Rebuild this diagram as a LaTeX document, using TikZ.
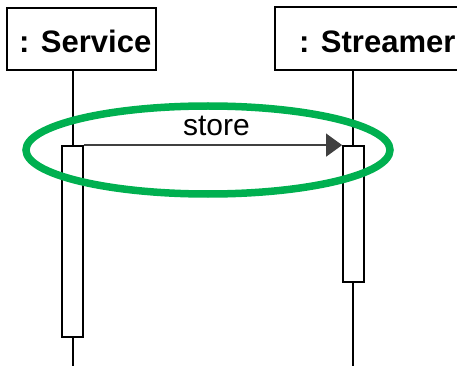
\documentclass[tikz,border=0pt]{standalone}
\usepackage{fontspec}
\setmainfont{Liberation Sans}
\usetikzlibrary{arrows.meta}
\definecolor{hlgreen}{HTML}{00B050}
\definecolor{msggray}{HTML}{404040}
\begin{document}
\begin{tikzpicture}[x=1pt,y=-1pt,
  objbox/.style={draw=black,line width=1.8pt,fill=white,inner sep=0pt},
  objname/.style={inner sep=0pt,anchor=base west,font=\fontsize{31}{37}\selectfont\bfseries},
  actbox/.style={draw=black,line width=1.8pt,fill=white,inner sep=0pt,minimum width=21pt},
  lifeline/.style={draw=black,line width=1.4pt},
  msg/.style={draw=msggray,line width=1.2pt,-{Triangle[length=16pt,width=23pt]}},
  msglabel/.style={inner sep=0pt,anchor=base,font=\fontsize{30}{36}\selectfont}]
\useasboundingbox (0,0) rectangle (457,366);

% object heads
\node[objbox,minimum width=149pt,minimum height=62pt] (svc) at (81.5,39) {};
\node[objbox,minimum width=202pt,minimum height=63pt] (str) at (376,38.5) {};
\node[objname] (svcname) at (19,53) {: Service};
\node[objname] (strname) at (299,53) {: Streamer};

% lifeline ends
\coordinate (svcend) at (73,366);
\coordinate (strend) at (353,366);
\draw[lifeline] (svc.south -| svcend) -- (svcend);
\draw[lifeline] (str.south -| strend) -- (strend);

% activation bars
\node[actbox,minimum height=191pt] (svcact) at (72.5,241.5) {};
\node[actbox,minimum height=136pt] (stract) at (353.5,214) {};

% message
\draw[msg] (svcact.north east) -- (stract.north west);
\node[msglabel] (store) at (216.5,136) {store};

% highlight
\draw[hlgreen,line width=7.5pt] (208,150) ellipse [x radius=182, y radius=44];
\end{tikzpicture}
\end{document}
